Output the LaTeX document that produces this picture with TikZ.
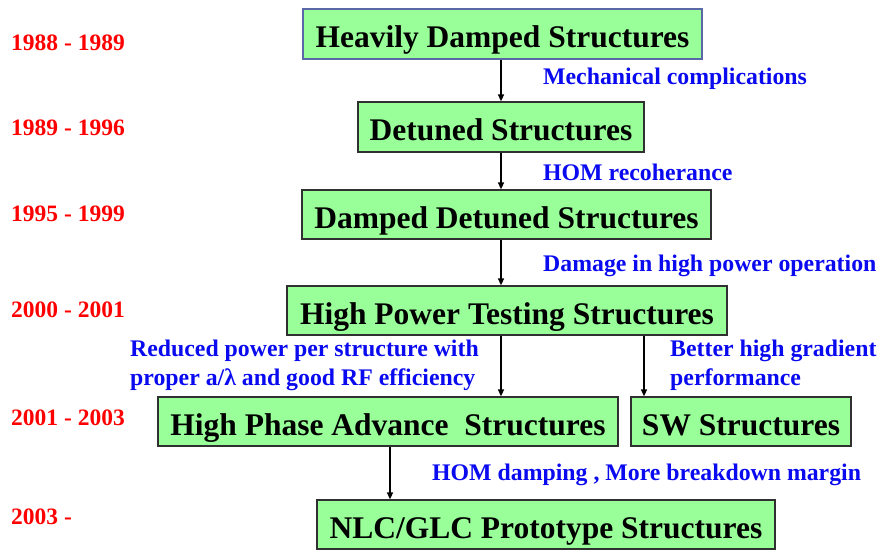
\documentclass[tikz,border=0pt]{standalone}
\usepackage{fontspec}
\setmainfont{Liberation Serif}
\usetikzlibrary{arrows.meta}
\definecolor{boxgreen}{HTML}{99FF99}
\definecolor{lblblue}{HTML}{0A0AF0}
\definecolor{yrred}{HTML}{FF0000}
\definecolor{edgeblue}{HTML}{5A68A8}
\definecolor{edgedark}{HTML}{303030}
\begin{document}
\begin{tikzpicture}[x=1pt,y=-1pt,
  box/.style={draw=edgedark, line width=1.3pt, fill=boxgreen, inner sep=0pt,
    text height=27pt, text depth=0pt,
    font=\fontsize{31.5}{33}\selectfont\bfseries, text=black},
  year/.style={anchor=west, inner sep=0pt, text=yrred, font=\fontsize{23.5}{25}\selectfont\bfseries},
  lbl/.style={anchor=west, inner sep=0pt, text=lblblue, font=\fontsize{23.8}{29}\selectfont\bfseries, align=left},
  arr/.style={line width=1.4pt, draw=black, -{Triangle[length=7pt,width=6pt]}}]
\useasboundingbox (0,0) rectangle (880,550);
% boxes
\node[box, draw=edgeblue, minimum width=399pt, minimum height=50pt] (b1) at (502.5,34) {Heavily Damped Structures};
\node[box, minimum width=286pt, minimum height=50pt] (b2) at (501,127) {Detuned Structures};
\node[box, minimum width=409pt, minimum height=49pt] (b3) at (506.5,214.5) {Damped Detuned Structures};
\node[box, minimum width=440pt, minimum height=49pt] (b4) at (507,310.5) {High Power Testing Structures};
\node[box, minimum width=460pt, minimum height=49pt] (b5) at (388,421.5) {High Phase Advance\ \ Structures};
\node[box, minimum width=220pt, minimum height=49pt] (b6) at (741,421.5) {SW Structures};
\node[box, minimum width=458pt, minimum height=49pt] (b7) at (546,524.5) {NLC/GLC Prototype Structures};
% years
\node[year] (y1) at (11,43) {1988 - 1989};
\node[year] (y2) at (11,128) {1989 - 1996};
\node[year] (y3) at (11,214) {1995 - 1999};
\node[year] (y4) at (11,310) {2000 - 2001};
\node[year] (y5) at (11,418) {2001 - 2003};
\node[year] (y6) at (11,517) {2003 -};
% labels
\node[lbl] (l1) at (543,79) {Mechanical complications};
\node[lbl] (l2) at (543,172) {HOM recoherance};
\node[lbl] (l3) at (543,266) {Damage in high power operation};
\node[lbl] (l4) at (130,365.5) {Reduced power per structure with\\proper a/λ and good RF efficiency};
\node[lbl] (l5) at (670,365.5) {Better high gradient\\performance};
\node[lbl] (l6) at (432,475) {HOM damping , More breakdown margin};
% arrows
\coordinate (cx) at (501,0);
\coordinate (cs) at (644,0);
\coordinate (cn) at (390,0);
\draw[arr] (cx |- b1.south) -- (cx |- b2.north);
\draw[arr] (cx |- b2.south) -- (cx |- b3.north);
\draw[arr] (cx |- b3.south) -- (cx |- b4.north);
\draw[arr] (cx |- b4.south) -- (cx |- b5.north);
\draw[arr] (cs |- b4.south) -- (cs |- b6.north);
\draw[arr] (cn |- b5.south) -- (cn |- b7.north);
\end{tikzpicture}
\end{document}
